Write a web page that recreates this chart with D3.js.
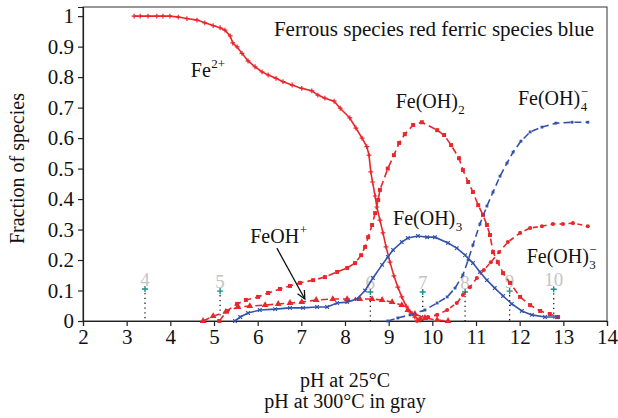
<!DOCTYPE html>
<html>
<head>
<meta charset="utf-8">
<script src="https://cdn.jsdelivr.net/npm/d3@7"></script>
<style>
  body { margin: 0; background: #fff; }
  svg text { font-family: "Liberation Serif", "Times New Roman", Times, "DejaVu Serif", "Noto Serif", serif; fill: #111; }
</style>
</head>
<body>
<svg id="chart" width="618" height="418"></svg>
<script>
// Iron speciation vs pH

const xTicks = [2, 3, 4, 5, 6, 7, 8, 9, 10, 11, 12, 13, 14]
const yTicks = [0, 0.1, 0.2, 0.3, 0.4, 0.5, 0.6, 0.7, 0.8, 0.9, 1]

// [pH at 25C, fraction]
const fe2 = [
  [3.17, 1.0], [3.31, 1.0], [3.49, 1.0], [3.69, 1.0], [3.83, 1.0], [3.99, 1.0],
  [4.18, 0.997], [4.38, 0.992], [4.61, 0.987], [4.79, 0.978], [4.98, 0.969],
  [5.14, 0.962], [5.25, 0.954], [5.37, 0.935], [5.43, 0.912], [5.53, 0.899],
  [5.64, 0.878], [5.78, 0.853], [5.94, 0.834], [6.10, 0.817], [6.24, 0.807],
  [6.42, 0.796], [6.58, 0.785], [6.79, 0.774], [7.01, 0.763], [7.24, 0.755],
  [7.38, 0.741], [7.54, 0.731], [7.75, 0.721], [7.89, 0.698], [8.11, 0.666],
  [8.25, 0.633], [8.39, 0.600], [8.50, 0.572], [8.55, 0.544], [8.59, 0.489],
  [8.63, 0.456], [8.69, 0.410], [8.73, 0.374], [8.80, 0.331], [8.87, 0.289],
  [8.94, 0.243], [9.03, 0.193], [9.12, 0.148], [9.21, 0.111], [9.30, 0.079],
  [9.40, 0.049], [9.49, 0.030], [9.60, 0.013], [9.72, 0.003]
]
const feOHplus = [
  [4.75, 0.0], [4.98, 0.016], [5.27, 0.030], [5.55, 0.046], [5.82, 0.049],
  [6.17, 0.052], [6.47, 0.056], [6.74, 0.059], [7.01, 0.062], [7.34, 0.069],
  [7.72, 0.072], [8.05, 0.072], [8.34, 0.072], [8.62, 0.072], [8.85, 0.069],
  [9.08, 0.062], [9.30, 0.052], [9.44, 0.036], [9.60, 0.023], [9.83, 0.010],
  [10.11, 0.003], [10.36, 0.0]
]
const feOH2 = [
  [5.12, 0.0], [5.30, 0.033], [5.53, 0.056], [5.73, 0.069], [6.01, 0.079],
  [6.24, 0.092], [6.51, 0.105], [6.74, 0.115], [6.97, 0.125], [7.27, 0.134],
  [7.54, 0.144], [7.82, 0.161], [8.05, 0.174], [8.23, 0.190], [8.37, 0.216],
  [8.46, 0.243], [8.53, 0.275], [8.62, 0.315], [8.69, 0.354], [8.76, 0.397],
  [8.80, 0.430], [8.98, 0.500], [9.12, 0.544], [9.24, 0.584], [9.37, 0.613],
  [9.56, 0.643], [9.76, 0.652], [10.11, 0.626], [10.27, 0.610], [10.43, 0.577],
  [10.61, 0.534], [10.70, 0.495], [10.82, 0.456], [10.93, 0.423], [11.05, 0.380],
  [11.16, 0.348], [11.25, 0.315], [11.32, 0.282], [11.39, 0.226], [11.50, 0.193],
  [11.62, 0.157], [11.78, 0.125], [12.01, 0.079], [12.24, 0.052], [12.47, 0.033],
  [12.69, 0.023], [12.88, 0.013]
]
const feOH3minus = [
  [9.65, 0.0], [9.72, 0.007], [9.90, 0.013], [10.11, 0.020], [10.34, 0.036],
  [10.56, 0.059], [10.70, 0.085], [10.86, 0.111], [11.02, 0.141], [11.18, 0.167],
  [11.34, 0.193], [11.53, 0.226], [11.73, 0.259], [12.01, 0.289], [12.24, 0.305],
  [12.51, 0.311], [12.76, 0.318], [12.99, 0.318], [13.22, 0.321], [13.56, 0.311]
]
const feOH3 = [
  [5.48, 0.0], [5.60, 0.013], [5.78, 0.026], [6.05, 0.036], [6.40, 0.039],
  [6.74, 0.043], [7.04, 0.043], [7.36, 0.046], [7.59, 0.046], [7.82, 0.059],
  [8.05, 0.062], [8.27, 0.072], [8.46, 0.100], [8.64, 0.141], [8.85, 0.184],
  [8.98, 0.210], [9.10, 0.233], [9.30, 0.259], [9.44, 0.272], [9.67, 0.279],
  [9.88, 0.275], [10.06, 0.275], [10.36, 0.256], [10.56, 0.239], [10.75, 0.216],
  [10.93, 0.190], [11.09, 0.161], [11.25, 0.134], [11.43, 0.108], [11.62, 0.082],
  [11.82, 0.056], [12.05, 0.033], [12.28, 0.020], [12.58, 0.013], [12.85, 0.013]
]
const feOH4minus = [
  [8.98, 0.0], [9.21, 0.010], [9.49, 0.020], [9.83, 0.036], [10.11, 0.059],
  [10.34, 0.079], [10.52, 0.108], [10.70, 0.151], [10.82, 0.200], [10.93, 0.249],
  [11.09, 0.318], [11.25, 0.377], [11.39, 0.423], [11.55, 0.475], [11.71, 0.518],
  [11.85, 0.554], [12.03, 0.590], [12.24, 0.620], [12.51, 0.636], [12.83, 0.649],
  [13.20, 0.652], [13.56, 0.652]
]

// pH at 300C (gray numbers) placed at the matching pH at 25C
const hotLabels = ['4', '5', '6', '7', '8', '9', '10']
const hotPH = [3.42, 5.14, 8.58, 9.78, 10.75, 11.77, 12.78]
const hotFrac = [0.105, 0.098, 0.095, 0.095, 0.095, 0.098, 0.104]

const RED = '#e8262c'
const BLUE = '#3452aa'

const series = [
  { data: fe2, color: RED, dash: null, symbol: d3.symbolPlus, size: 9, stroke: true },
  { data: feOHplus, color: RED, dash: '7,4', symbol: d3.symbolTriangle, size: 20, stroke: false },
  { data: feOH2, color: RED, dash: '7,4', symbol: d3.symbolSquare, size: 16, stroke: false },
  { data: feOH3minus, color: RED, dash: '5,4', symbol: d3.symbolCircle, size: 13, stroke: false },
  { data: feOH3, color: BLUE, dash: null, symbol: d3.symbolTimes, size: 10, stroke: true },
  { data: feOH4minus, color: BLUE, dash: '7,4', symbol: d3.symbolSquare, size: 8, stroke: false }
]

const svg = d3.select('#chart')
const W = 618
const H = 418
const margin = { top: 7, right: 11, bottom: 97, left: 83 }

const x = d3.scaleLinear()
    .domain([2, 14])
    .range([margin.left, W - margin.right])

const y = d3.scaleLinear()
    .domain([0, 1.03])
    .range([H - margin.bottom, margin.top])

// Frame
svg.append('rect')
  .attr('x', x(2))
  .attr('y', y(1.03))
  .attr('width', x(14) - x(2))
  .attr('height', y(0) - y(1.03))
  .attr('fill', 'none')
  .attr('stroke', '#333')
  .attr('stroke-width', 1)

// Axes
svg.append('g')
  .attr('transform', 'translate(0,' + y(0) + ')')
  .call(d3.axisBottom(x).tickValues(xTicks).tickSize(5).tickPadding(3).tickFormat(d3.format('d')))

svg.append('g')
  .attr('transform', 'translate(' + x(2) + ',0)')
  .call(d3.axisLeft(y).tickValues(yTicks).tickSize(5).tickPadding(4).tickFormat(d3.format('.1~f')))

svg.selectAll('g[font-family]').attr('font-family', null).attr('font-size', null)
svg.selectAll('.tick text')
  .style('font-size', '21px')
  .attr('fill', '#111')
svg.selectAll('.domain, .tick line')
  .attr('stroke', '#222')
  .attr('stroke-width', 1.2)

// Dotted drop lines and gray 300C labels
let hot = svg.append('g')
hotLabels.forEach((lab, i) => {
  hot.append('line')
    .attr('x1', x(hotPH[i]))
    .attr('x2', x(hotPH[i]))
    .attr('y1', y(hotFrac[i]) + 4)
    .attr('y2', y(0))
    .attr('stroke', '#222')
    .attr('stroke-width', 1.3)
    .attr('stroke-dasharray', '1.3,3.5')
  hot.append('path')
    .attr('d', d3.symbol(d3.symbolPlus, 14)())
    .attr('transform', 'translate(' + x(hotPH[i]) + ',' + y(hotFrac[i]) + ')')
    .attr('fill', 'none')
    .attr('stroke', '#1b9090')
    .attr('stroke-width', 1.4)
  hot.append('text')
    .attr('x', x(hotPH[i]))
    .attr('y', y(hotFrac[i]) - 3)
    .attr('text-anchor', 'middle')
    .style('font-size', '19px')
    .style('fill', '#c4c4c4')
    .text(lab)
})

// Curves
let line = d3.line()
    .x(d => x(d[0]))
    .y(d => y(d[1]))

series.forEach(s => {
  svg.append('path')
    .datum(s.data)
    .attr('d', line)
    .attr('fill', 'none')
    .attr('stroke', s.color)
    .attr('stroke-width', 1.6)
    .attr('stroke-dasharray', s.dash)

  svg.append('g')
    .selectAll('path')
    .data(s.data)
    .join('path')
    .attr('d', d3.symbol(s.symbol, s.size)())
    .attr('transform', d => 'translate(' + x(d[0]) + ',' + y(d[1]) + ')')
    .attr('fill', s.stroke ? 'none' : s.color)
    .attr('stroke', s.stroke ? s.color : 'none')
    .attr('stroke-width', 1.2)
})

// Species labels with sub/superscripts
function chemLabel (px, py, main, sub, sup) {
  let g = svg.append('g')
  let t = g.append('text')
      .attr('x', x(px))
      .attr('y', y(py))
      .style('font-size', '20px')
      .text(main)
  let w = t.node().getComputedTextLength()
  if (sub) {
    g.append('text')
      .attr('x', x(px) + w + 0.5)
      .attr('y', y(py) + 6)
      .style('font-size', '13px')
      .text(sub)
  }
  if (sup) {
    g.append('text')
      .attr('x', x(px) + w + 0.5)
      .attr('y', y(py) - 9)
      .style('font-size', '13px')
      .text(sup)
  }
}

chemLabel(4.47, 0.80, 'Fe', null, '2+')
chemLabel(9.16, 0.70, 'Fe(OH)', '2', null)
chemLabel(11.96, 0.71, 'Fe(OH)', '4', '\u2212')
chemLabel(9.10, 0.315, 'Fe(OH)', '3', null)
chemLabel(12.16, 0.19, 'Fe(OH)', '3', '\u2212')
chemLabel(5.83, 0.255, 'FeOH', null, '+')

// Arrow to FeOH+
let ax1 = x(6.44), ay1 = y(0.239), ax2 = x(7.08), ay2 = y(0.072)
svg.append('line')
  .attr('x1', ax1).attr('y1', ay1)
  .attr('x2', ax2).attr('y2', ay2)
  .attr('stroke', '#111')
  .attr('stroke-width', 1.3)
let ang = Math.atan2(ay2 - ay1, ax2 - ax1)
let head = 9
let spread = 0.45
svg.append('path')
  .attr('d', 'M' + (ax2 - head * Math.cos(ang - spread)) + ',' + (ay2 - head * Math.sin(ang - spread)) +
    'L' + ax2 + ',' + ay2 +
    'L' + (ax2 - head * Math.cos(ang + spread)) + ',' + (ay2 - head * Math.sin(ang + spread)))
  .attr('fill', 'none')
  .attr('stroke', '#111')
  .attr('stroke-width', 1.3)

// Note in the corner
svg.append('text')
  .attr('x', x(14) - 13)
  .attr('y', y(1.03) + 29)
  .attr('text-anchor', 'end')
  .style('font-size', '21px')
  .text('Ferrous species red ferric species blue')

// Axis titles
svg.append('text')
  .attr('transform', 'translate(24,' + y(0.5) + ') rotate(-90)')
  .attr('text-anchor', 'middle')
  .style('font-size', '20px')
  .text('Fraction of species')

svg.append('text')
  .attr('x', (x(2) + x(14)) / 2)
  .attr('y', 387)
  .attr('text-anchor', 'middle')
  .style('font-size', '20px')
  .text('pH at 25\u00b0C')

svg.append('text')
  .attr('x', (x(2) + x(14)) / 2)
  .attr('y', 408)
  .attr('text-anchor', 'middle')
  .style('font-size', '20px')
  .text('pH at 300\u00b0C in gray')
</script>
</body>
</html>
